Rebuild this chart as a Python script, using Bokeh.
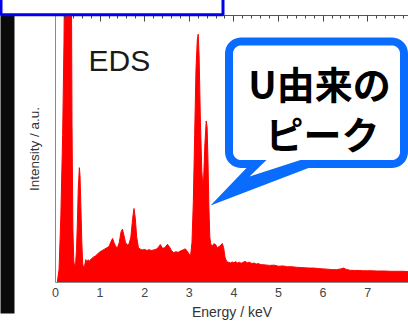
import numpy as np
from bokeh.plotting import figure
from bokeh.models import (LinearAxis, SingleIntervalTicker, FixedTicker, Range1d, Label)
from bokeh.embed import file_html
from bokeh.resources import INLINE

# EDS spectrum: photon energy (keV) and intensity (arbitrary units)
energy_kev = [
    0.04, 0.08, 0.12, 0.16, 0.19, 0.22, 0.26, 0.29, 0.32, 0.35, 0.37, 0.39,
    0.41, 0.43, 0.45, 0.47, 0.49, 0.51, 0.535, 0.55, 0.57, 0.59, 0.61, 0.63,
    0.65, 0.68, 0.70, 0.73, 0.76, 0.80, 0.85, 0.90, 0.95, 1.00, 1.05, 1.10,
    1.15, 1.20, 1.25, 1.28, 1.31, 1.35, 1.39, 1.43, 1.47, 1.50, 1.53, 1.57,
    1.61, 1.65, 1.69, 1.73, 1.76, 1.79, 1.82, 1.86, 1.90, 1.95, 2.00, 2.05,
    2.10, 2.15, 2.20, 2.25, 2.30, 2.35, 2.40, 2.45, 2.51, 2.56, 2.60, 2.65,
    2.70, 2.75, 2.80, 2.86, 2.91, 2.96, 3.00, 3.03, 3.06, 3.09, 3.12, 3.15,
    3.18, 3.20, 3.22, 3.25, 3.28, 3.30, 3.32, 3.35, 3.38, 3.40, 3.42, 3.44,
    3.46, 3.48, 3.51, 3.55, 3.59, 3.63, 3.67, 3.71, 3.74, 3.77, 3.80, 3.84,
    3.88, 3.92, 3.96, 4.00, 4.04, 4.08, 4.12, 4.16, 4.20, 4.25, 4.30, 4.35,
    4.40, 4.45, 4.50, 4.55, 4.60, 4.70, 4.80, 4.90, 5.00, 5.10, 5.20, 5.30,
    5.40, 5.50, 5.60, 5.70, 5.80, 5.90, 6.00, 6.10, 6.20, 6.30, 6.40, 6.46,
    6.52, 6.60, 6.70, 6.80, 6.90, 7.00, 7.10, 7.20, 7.30, 7.40, 7.50, 7.60,
    7.70, 7.80, 7.90, 8.00,
]
counts = [
    0.0, 5.0, 25.0, 55.0, 90.0, 150.0, 260.0, 300.0, 240.0, 140.0, 60.0, 20.0,
    8.0, 6.0, 7.0, 12.0, 22.0, 35.0, 43.0, 40.0, 28.0, 15.0, 7.0, 5.5,
    6.0, 8.6, 7.5, 8.5, 8.0, 8.8, 9.5, 10.0, 10.8, 11.5, 12.0, 12.5,
    13.0, 13.5, 15.5, 16.5, 15.0, 13.5, 13.0, 15.0, 19.0, 20.0, 18.0, 15.0,
    14.0, 14.5, 17.0, 24.0, 27.7, 24.0, 17.0, 13.0, 12.5, 12.2, 12.4, 12.0,
    12.3, 12.0, 12.2, 12.4, 13.0, 14.2, 12.8, 13.0, 14.3, 13.2, 12.0, 11.2,
    11.5, 11.3, 11.8, 12.2, 12.6, 11.6, 10.5, 10.2, 15.0, 30.0, 55.0, 80.0,
    91.0, 93.0, 85.0, 60.0, 42.0, 37.0, 38.0, 52.0, 60.5, 58.0, 45.0, 28.0,
    17.0, 14.5, 13.5, 14.5, 14.2, 13.0, 13.5, 14.0, 14.6, 13.0, 9.5, 7.8,
    7.6, 7.3, 7.7, 7.4, 7.8, 7.3, 7.6, 7.2, 7.5, 7.9, 7.4, 7.6,
    7.1, 7.3, 6.9, 7.1, 6.7, 6.6, 6.4, 6.5, 6.1, 6.2, 5.9, 5.9,
    5.7, 5.6, 5.5, 5.4, 5.4, 5.2, 5.1, 5.0, 4.8, 4.8, 5.1, 5.4,
    4.9, 4.6, 4.5, 4.5, 4.4, 4.4, 4.4, 4.3, 4.3, 4.3, 4.2, 4.2,
    4.2, 4.2, 4.1, 4.1,
]
x_ticks = [0, 1, 2, 3, 4, 5, 6, 7]
x_label = "Energy / keV"
y_label = "Intensity / a.u."
panel_title = "EDS"
callout_lines = ["U由来の", "ピーク"]

# canvas size and where the plotting box sits on it (pixels)
W, H = 408, 321
BOX_L, BOX_T, BOX_B = 55, 15, 282
X_END = 7.915          # energy at the right edge of the canvas
Y_TOP = 100.0          # intensity at the top of the plotting box

PX_PER_KEV = (W - BOX_L) / X_END
PX_PER_UNIT = (BOX_B - BOX_T) / Y_TOP

SPECTRUM_RED = "#ff0000"
CALLOUT_BLUE = "#0a6cff"
FRAME_BLUE = "#0000ee"


def to_data(pts):
    xs = [(px - BOX_L) / PX_PER_KEV for px, _ in pts]
    ys = [(BOX_B - py) / PX_PER_UNIT for _, py in pts]
    return xs, ys


p = figure(width=W, height=H, output_backend="svg", toolbar_location=None,
           x_range=Range1d(-BOX_L / PX_PER_KEV, X_END),
           y_range=Range1d(-(H - BOX_B) / PX_PER_UNIT, BOX_B / PX_PER_UNIT),
           x_axis_location=None, y_axis_location=None,
           min_border_left=0, min_border_right=0,
           min_border_top=0, min_border_bottom=0)
p.grid.visible = False
p.outline_line_color = None
p.background_fill_color = "white"
p.border_fill_color = "white"

# bottom energy axis
xa = LinearAxis(ticker=FixedTicker(ticks=x_ticks), axis_label=x_label,
                fixed_location=0, bounds=(0, X_END))
xa.axis_line_color = "#8a8a8a"
xa.major_tick_line_color = None
xa.minor_tick_line_color = None
xa.major_tick_in = 0
xa.major_tick_out = 0
xa.major_label_standoff = 5
xa.major_label_text_font = "Liberation Sans"
xa.major_label_text_font_size = "12.5px"
xa.major_label_text_color = "#444444"
xa.axis_label_standoff = 4
xa.axis_label_text_font = "Liberation Sans"
xa.axis_label_text_font_style = "normal"
xa.axis_label_text_font_size = "14px"
xa.axis_label_text_color = "#333333"
p.add_layout(xa, "below")

# left intensity axis: line and title only
ya = LinearAxis(ticker=FixedTicker(ticks=[]), axis_label=y_label,
                fixed_location=0, bounds=(0, Y_TOP))
ya.axis_line_color = "#8a8a8a"
ya.major_tick_out = 0
ya.major_tick_in = 0
ya.major_label_standoff = 0
ya.axis_label_standoff = 14
ya.axis_label_text_font = "Liberation Sans"
ya.axis_label_text_font_style = "normal"
ya.axis_label_text_font_size = "13.5px"
ya.axis_label_text_color = "#333333"
p.add_layout(ya, "left")

# top axis with inward ticks and no labels
ta = LinearAxis(ticker=SingleIntervalTicker(interval=1, num_minor_ticks=5),
                fixed_location=Y_TOP, bounds=(0, X_END))
ta.axis_line_color = "#555555"
ta.major_tick_line_color = "#444444"
ta.minor_tick_line_color = "#444444"
ta.major_tick_in = 6
ta.major_tick_out = 0
ta.minor_tick_in = 3
ta.minor_tick_out = 0
ta.major_label_standoff = 0
ta.major_label_overrides = {t: "" for t in range(0, 9)}
p.add_layout(ta, "above")

# spectrum
p.varea(x=energy_kev, y1=0, y2=counts, fill_color=SPECTRUM_RED)
p.line(x=energy_kev, y=counts, line_color=SPECTRUM_RED, line_width=1)

p.add_layout(Label(x=0.74, y=83.1, text=panel_title, text_font="Liberation Sans",
                   text_font_size="30px", text_color="#1a1a1a",
                   text_baseline="alphabetic"))


# callout bubble outline, built in pixels and mapped onto the axes
def bubble(l, t, r, b, rad, tail, n=12):
    pts = []
    corners = [(r - rad, t + rad, -90, 0), (r - rad, b - rad, 0, 90),
               (l + rad, b - rad, 90, 180), (l + rad, t + rad, 180, 270)]
    for i, (cx, cy, a0, a1) in enumerate(corners):
        for a in np.radians(np.linspace(a0, a1, n)):
            pts.append((cx + rad * np.cos(a), cy + rad * np.sin(a)))
        if i == 1:
            pts.extend(tail)
    return to_data(pts)


ox, oy = bubble(224.5, 37, 407.5, 167.5, 16,
                [(308, 167.5), (210, 205), (246, 167.5)])
ix, iy = bubble(232.5, 45, 399.5, 159.5, 8,
                [(300, 159.5), (249, 176), (266, 159.5)])
p.patch(ox, oy, fill_color=CALLOUT_BLUE, line_color=None)
p.patch(ix, iy, fill_color="white", line_color=None)

for (cx, cy), line in zip([(319, 82), (322, 132)], callout_lines):
    lx, ly = to_data([(cx, cy)])
    p.add_layout(Label(x=lx[0], y=ly[0], text=line, text_font="Noto Sans CJK JP",
                       text_font_style="bold", text_font_size="38px",
                       text_color="black", text_align="center",
                       text_baseline="middle"))

# neighbouring panel edges: dark strip on the left, framed box at the top
bx, by = to_data([(0, 15), (14, 313)])
p.quad(left=bx[0], right=bx[1], top=by[0], bottom=by[1],
       fill_color="#0a0a0a", line_color=None, level="overlay")
tx, ty = to_data([(0.5, -5), (222.5, 14.2)])
p.quad(left=tx[0], right=tx[1], top=ty[0], bottom=ty[1],
       fill_color="white", line_color=FRAME_BLUE, line_width=3, level="overlay")

open("out.html", "w").write(file_html(p, INLINE))
